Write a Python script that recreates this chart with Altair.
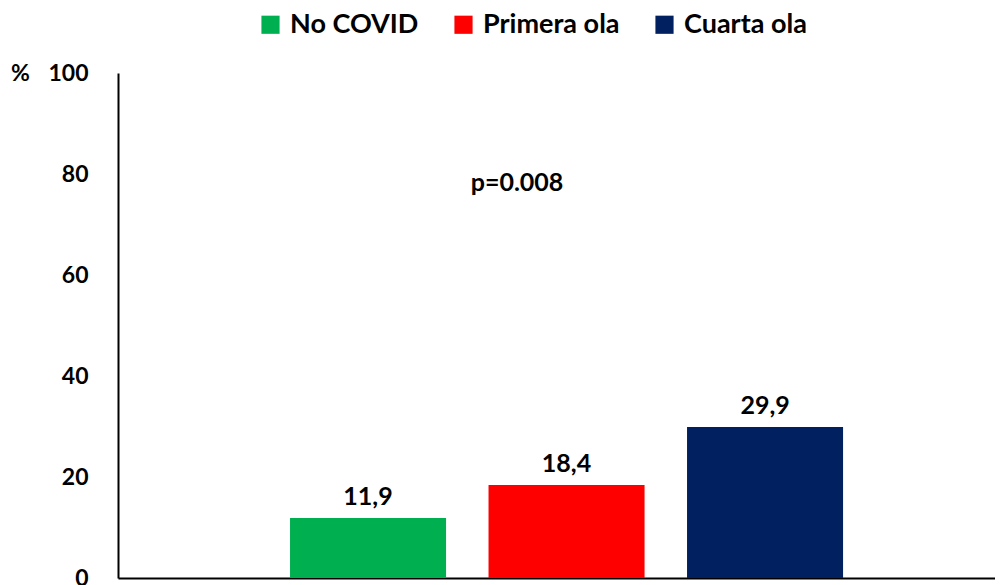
import altair as alt
import pandas as pd

series = ["No COVID", "Primera ola", "Cuarta ola"]
values = [11.9, 18.4, 29.9]
colors = ["#00B050", "#FF0000", "#002060"]
y_ticks = [0, 20, 40, 60, 80, 100]
p_text = ["p=0.008"]

df = pd.DataFrame({"serie": series, "valor": values})
FONT = "Lato"

x = alt.X("serie:N", sort=series, title=None,
          scale=alt.Scale(paddingInner=0.214, paddingOuter=0.816, align=0.531),
          axis=alt.Axis(labels=False, ticks=False, domainColor="black", domainWidth=2))
y = alt.Y("valor:Q", scale=alt.Scale(domain=[0, 100], nice=False),
          axis=alt.Axis(values=y_ticks, title="%", titleAngle=0, titleX=-98, titleY=0,
                        titleAlign="center", titleBaseline="middle", titleFont=FONT,
                        titleFontSize=23, titleFontWeight="bold", titleColor="black",
                        labelFont=FONT, labelFontSize=23, labelFontWeight="bold",
                        labelColor="black", labelPadding=30, ticks=False, grid=False,
                        domainColor="black", domainWidth=2))

bars = alt.Chart(df).mark_bar().encode(
    x=x, y=y,
    color=alt.Color("serie:N", sort=series,
                    scale=alt.Scale(domain=series, range=colors),
                    legend=alt.Legend(title=None, orient="none", direction="horizontal",
                                      legendX=139, legendY=-62, symbolType="square",
                                      symbolSize=330, symbolStrokeWidth=0, labelFont=FONT,
                                      labelFontSize=27, labelFontWeight="bold",
                                      labelColor="black", columnPadding=31, labelOffset=6,
                                      labelLimit=400)),
)

labels = alt.Chart(df).transform_calculate(
    lab="replace(format(datum.valor, '.1f'), '.', ',')"
).mark_text(font=FONT, fontSize=25, fontWeight="bold", color="black", baseline="bottom", dy=-8).encode(
    x=alt.X("serie:N", sort=series), y="valor:Q", text="lab:N"
)

ptext = alt.Chart(pd.DataFrame({"t": p_text})).mark_text(
    font=FONT, fontSize=25, fontWeight="bold", color="black"
).encode(x=alt.value(399), y=alt.value(110), text="t:N")

chart = alt.layer(bars, labels, ptext).properties(
    width=877, height=505,
    autosize=alt.AutoSizeParams(type="none"),
    padding={"left": 110, "top": 65, "right": 0, "bottom": 8},
).configure_view(stroke=None)

chart.save("out.html", embed_options={"renderer": "svg", "actions": False})
